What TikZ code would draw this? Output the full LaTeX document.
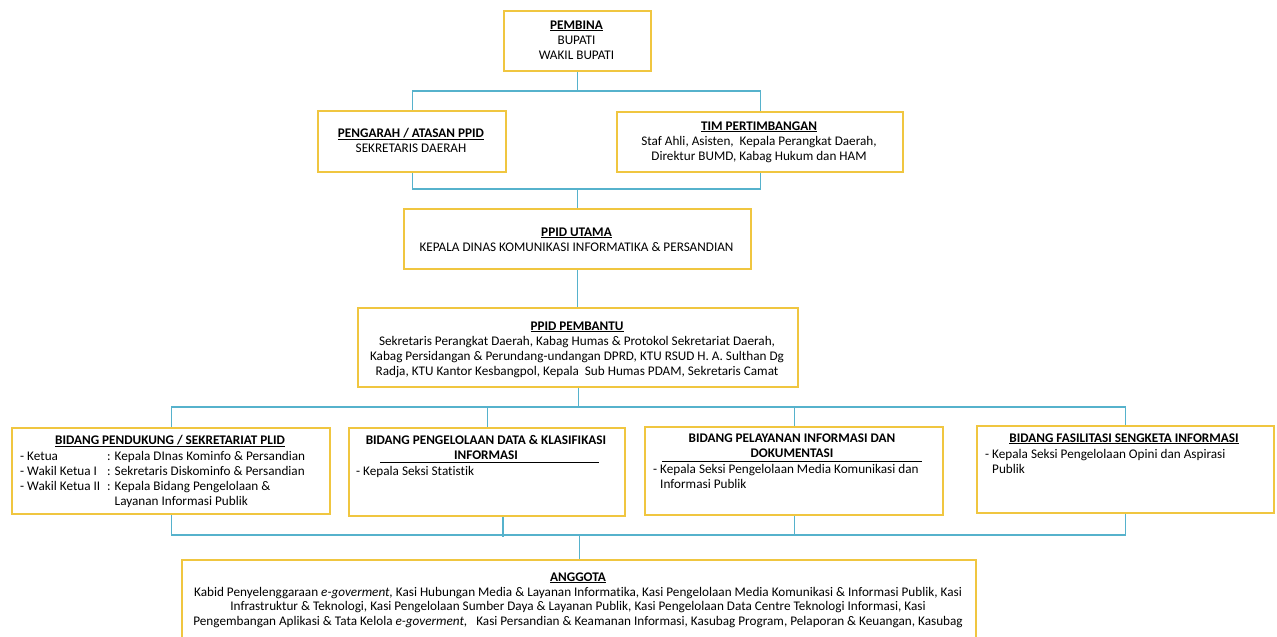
\documentclass[tikz,border=0pt]{standalone}
\usepackage{fontspec}
\setmainfont{Carlito}[Ligatures={NoCommon}]
\usetikzlibrary{backgrounds}
\definecolor{boxy}{RGB}{240,198,64}
\definecolor{linky}{RGB}{86,178,204}
\setlength{\tabcolsep}{0pt}
\begin{document}
\begin{tikzpicture}[x=1pt,y=-1pt,
  box/.style={draw=boxy,line width=2.4pt,fill=white,inner sep=0pt,anchor=north west,rectangle},
  conn/.style={draw=linky,line width=1.4pt},
  txt/.style={inner sep=0pt,font=\fontsize{13.2}{15}\selectfont,anchor=base},
  ttl/.style={txt,font=\fontsize{13.2}{15}\selectfont\bfseries},
  rulel/.style={draw=black,line width=0.8pt}]
\useasboundingbox (0,0) rectangle (1277,637);

% boxes
\node[box,minimum width=147pt,minimum height=60pt] (pembina) at (503,10) {};
\node[box,minimum width=188pt,minimum height=61pt] (pengarah) at (317,110) {};
\node[box,minimum width=286pt,minimum height=60pt] (tim) at (616,111) {};
\node[box,minimum width=347pt,minimum height=60pt] (utama) at (403,208) {};
\node[box,minimum width=440pt,minimum height=79pt] (pembantu) at (357,307) {};
\node[box,minimum width=318pt,minimum height=86pt] (pendukung) at (11,427) {};
\node[box,minimum width=276pt,minimum height=88pt] (pengelolaan) at (348,427) {};
\node[box,minimum width=298pt,minimum height=88pt] (pelayanan) at (644,426) {};
\node[box,minimum width=297pt,minimum height=87pt] (fasilitasi) at (976,425) {};
\node[box,minimum width=794pt,minimum height=90pt] (anggota) at (181,559) {};

% connectors
\begin{pgfonlayer}{background}
\fill[white] (0,0) rectangle (1277,637);
\coordinate (bus1) at (pembina.south |- 0,91);
\draw[conn] (pembina.south) -- (bus1);
\draw[conn] (pengarah.north) |- (bus1) -| (tim.north);
\coordinate (bus2) at (utama.north |- 0,189);
\draw[conn] (pengarah.south) |- (bus2) -| (tim.south);
\draw[conn] (bus2) -- (utama.north);
\draw[conn] (utama.south) -- (utama.south |- pembantu.north);
\coordinate (bus3) at (pembantu.south |- 0,407);
\draw[conn] (pembantu.south) -- (bus3);
\draw[conn] (pendukung.north) |- (bus3) -| (fasilitasi.north);
\draw[conn] (pengelolaan.north) -- (pengelolaan.north |- bus3);
\draw[conn] (pelayanan.north) -- (pelayanan.north |- bus3);
\coordinate (bus4) at (anggota.north |- 0,535);
\draw[conn] (pendukung.south) |- (bus4) -| (fasilitasi.south);
\draw[conn] (bus4) -- (anggota.north);
\draw[conn] (pengelolaan.south -| 503,0) -- ++(0,20);
\draw[conn] (pelayanan.south) -- (pelayanan.south |- bus4);
\end{pgfonlayer}

% texts
\node[ttl] (t-pembina) at (576.5,29) {\underline{PEMBINA}};
\node[txt] (t-pembina2) at (576.5,44) {\begin{tabular}[t]{c}BUPATI\\WAKIL BUPATI\end{tabular}};

\node[ttl] (t-pengarah) at (411,137) {\underline{PENGARAH / ATASAN PPID}};
\node[txt] (t-pengarah2) at (411,152) {SEKRETARIS DAERAH};

\node[ttl] (t-tim) at (759,130) {\underline{TIM PERTIMBANGAN}};
\node[txt] (t-tim2) at (759,145) {\begin{tabular}[t]{c}Staf Ahli, Asisten,\ \ Kepala Perangkat Daerah,\\Direktur BUMD, Kabag Hukum dan HAM\end{tabular}};

\node[ttl] (t-utama) at (576.5,236) {\underline{PPID UTAMA}};
\node[txt] (t-utama2) at (576.5,251) {KEPALA DINAS KOMUNIKASI INFORMATIKA \& PERSANDIAN};

\node[ttl] (t-pembantu) at (577,330) {\underline{PPID PEMBANTU}};
\node[txt] (t-pembantu2) at (577,345) {\begin{tabular}[t]{c}Sekretaris Perangkat Daerah, Kabag Humas \& Protokol Sekretariat Daerah,\\Kabag Persidangan \& Perundang-undangan DPRD, KTU RSUD H. A. Sulthan Dg\\Radja, KTU Kantor Kesbangpol, Kepala\ \ Sub Humas PDAM, Sekretaris Camat\end{tabular}};

\node[ttl] (t-pendukung) at (170,444) {\underline{BIDANG PENDUKUNG / SEKRETARIAT PLID}};
\node[txt,anchor=base west] (t-pendukung2) at (20,460) {\begin{tabular}[t]{@{}p{87pt}@{}l@{}}
- Ketua & : Kepala DInas Kominfo \& Persandian\\
- Wakil Ketua I & : Sekretaris Diskominfo \& Persandian\\
- Wakil Ketua II & : Kepala Bidang Pengelolaan \&\\
 & \phantom{: }Layanan Informasi Publik\end{tabular}};

\node[ttl] (t-pengelolaan) at (486,444) {\begin{tabular}[t]{c}BIDANG PENGELOLAAN DATA \& KLASIFIKASI\\INFORMASI\end{tabular}};
\coordinate (r1a) at (380,462);
\coordinate (r1b) at (599,462);
\draw[rulel] (r1a) -- (r1b);
\node[txt,anchor=base west] (t-pengelolaan2) at (356,475) {- Kepala Seksi Statistik};

\node[ttl] (t-pelayanan) at (792,442) {\begin{tabular}[t]{c}BIDANG PELAYANAN INFORMASI DAN\\DOKUMENTASI\end{tabular}};
\coordinate (r2a) at (662,461);
\coordinate (r2b) at (922,461);
\draw[rulel] (r2a) -- (r2b);
\node[txt,anchor=base west] (t-pelayanan2) at (653,473) {\begin{tabular}[t]{@{}l@{}}- Kepala Seksi Pengelolaan Media Komunikasi dan\\\phantom{- }Informasi Publik\end{tabular}};

\node[ttl] (t-fasilitasi) at (1124,442) {\underline{BIDANG FASILITASI SENGKETA INFORMASI}};
\node[txt,anchor=base west] (t-fasilitasi2) at (985,458) {\begin{tabular}[t]{@{}l@{}}- Kepala Seksi Pengelolaan Opini dan Aspirasi\\\phantom{- }Publik\end{tabular}};

\node[ttl] (t-anggota) at (578,581) {\underline{ANGGOTA}};
\node[txt,font=\fontsize{13.2}{14.7}\selectfont] (t-anggota2) at (578,596) {\begin{tabular}[t]{c}Kabid Penyelenggaraan \textit{e-goverment,} Kasi Hubungan Media \& Layanan Informatika, Kasi Pengelolaan Media Komunikasi \& Informasi Publik, Kasi\\
Infrastruktur \& Teknologi, Kasi Pengelolaan Sumber Daya \& Layanan Publik, Kasi Pengelolaan Data Centre Teknologi Informasi, Kasi\\
Pengembangan Aplikasi \& Tata Kelola \textit{e-goverment,}\hspace{9pt}Kasi Persandian \& Keamanan Informasi, Kasubag Program, Pelaporan \& Keuangan, Kasubag\end{tabular}};
\end{tikzpicture}
\end{document}
